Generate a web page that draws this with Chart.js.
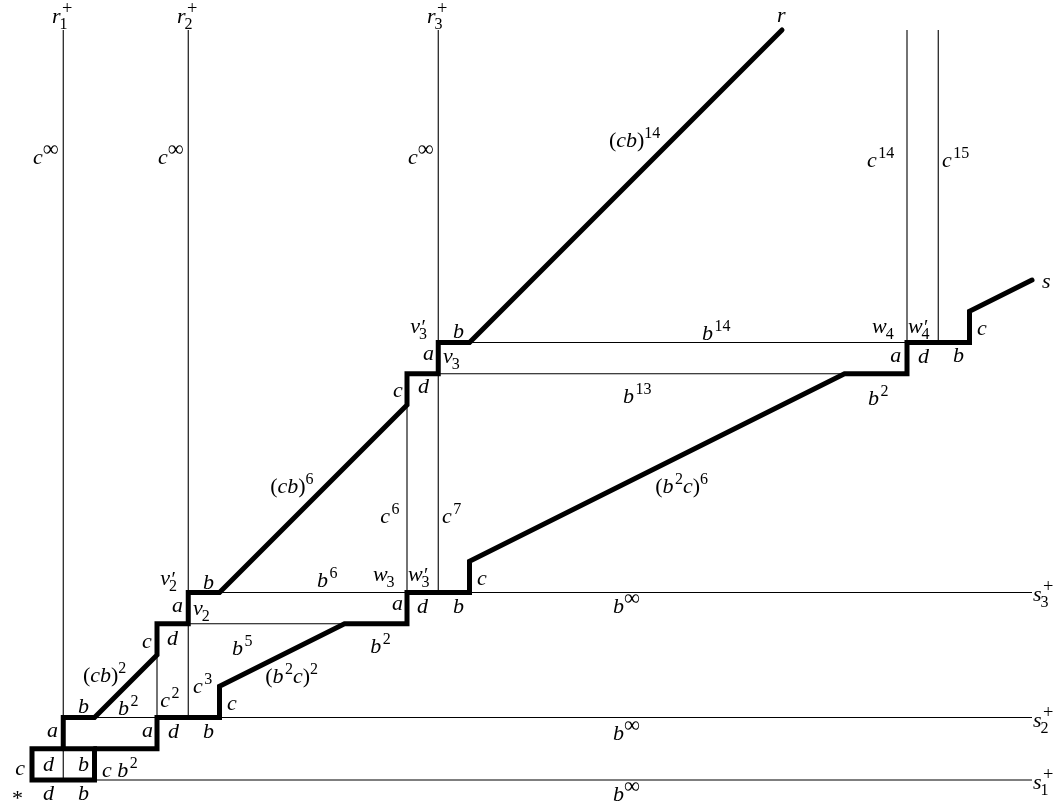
<!DOCTYPE html>
<html><head><meta charset="utf-8">
<script src="https://cdn.jsdelivr.net/npm/chart.js@4/dist/chart.umd.min.js"></script>
<style>html,body{margin:0;padding:0;background:#fff;overflow:hidden}#c{display:block}</style>
</head><body>
<canvas id="c" width="1060" height="812"></canvas>
<script>
// ---- diagram data in grid units (one cell = one generator step) ----
const boxPath   = [[0,1],[2,1],[2,0],[0,0],[0,1]];
const upperPath = [[1,1],[1,2],[2,2],[4,4],[4,5],[5,5],[5,6],[6,6],[12,12],[12,13],[13,13],[13,14],[14,14],[24,24]];
const lowerPath = [[2,1],[4,1],[4,2],[6,2],[6,3],[10,5],[12,5],[12,6],[14,6],[14,7],[26,13],[28,13],[28,14],[30,14],[30,15],[32,16]];
// thin verticals: [x, yFrom, yTo]
const verticalLines = [[1,0,24],[5,2,24],[13,6,24],[28,14,24],[29,14,24],[4,2,4],[12,6,12]];
// thin horizontals: [y, xFrom, xTo]
const horizontalLines = [[0,0,32],[2,1,32],[6,5,32],[5,5,10],[13,13,26],[14,13,28]];
// annotations: [text, x, y] (left edge, baseline)
const labels = [
  ["r_{1}^{+}",0.64,24.22],["r_{2}^{+}",4.64,24.22],["r_{3}^{+}",12.64,24.22],["r",23.84,24.26],
  ["c^{∞}",0.03,19.71],["c^{∞}",4.03,19.71],["c^{∞}",12.03,19.71],
  ["(cb)^{14}",18.46,20.26],["c^{14}",26.72,19.62],["c^{15}",29.12,19.62],["s",32.32,15.74],
  ["v_{3}^{′}",12.10,14.30],["b",13.47,14.14],["b^{14}",21.44,14.08],["w_{4}",26.88,14.30],["w_{4}^{′}",28.03,14.30],
  ["a",12.51,13.44],["v_{3}",13.15,13.34],["a",27.46,13.38],["d",28.35,13.34],["b",29.47,13.38],["c",30.24,14.24],
  ["c",11.55,12.26],["d",12.35,12.38],["b^{13}",18.91,12.06],["b^{2}",26.75,12.00],
  ["(cb)^{6}",7.62,9.18],["c^{6}",11.14,8.22],["c^{7}",13.12,8.22],["(b^{2}c)^{6}",19.94,9.18],
  ["v_{2}^{′}",4.10,6.24],["b",5.47,6.11],["b^{6}",9.12,6.18],["w_{3}",10.91,6.37],["w_{3}^{′}",12.03,6.37],["c",14.24,6.24],
  ["s_{3}^{+}",32.03,5.73],["s_{2}^{+}",32.03,1.70],["s_{1}^{+}",32.03,-0.29],
  ["a",4.48,5.38],["v_{2}",5.15,5.28],["b^{5}",6.40,4.00],["a",11.52,5.44],["d",12.32,5.34],["b",13.47,5.34],["b^{∞}",18.59,5.34],
  ["c",3.52,4.22],["d",4.32,4.32],["b^{2}",10.82,4.06],
  ["(cb)^{2}",1.63,3.14],["(b^{2}c)^{2}",7.46,3.10],["c^{3}",5.15,2.78],["c^{2}",4.10,2.34],
  ["b",1.47,2.14],["b^{2}",2.75,2.08],["c",6.24,2.24],
  ["a",0.48,1.38],["a",3.52,1.38],["d",4.35,1.34],["b",5.47,1.34],["b^{∞}",18.59,1.28],
  ["c",-0.54,0.16],["d",0.35,0.29],["b",1.47,0.29],["c b^{2}",2.24,0.10],
  ["*",-0.64,-0.80],["d",0.35,-0.64],["b",1.47,-0.64],["b^{∞}",18.59,-0.67]
];

// ---- build datasets ----
const toPts = arr => arr.map(([x,y]) => ({x, y}));
const datasets = [];
verticalLines.forEach(([x,a,b]) => datasets.push({data: toPts([[x,a],[x,b]]), thin:true}));
horizontalLines.forEach(([y,a,b]) => datasets.push({data: toPts([[a,y],[b,y]]), thin:true}));
[boxPath, upperPath, lowerPath].forEach((p,i) => datasets.push({data: toPts(p), thin:false, cap: i===0 ? 'square' : 'round'}));
datasets.forEach(d => {
  Object.assign(d, {
    showLine: true, pointRadius: 0, pointHoverRadius: 0, fill: false,
    borderColor: '#000', backgroundColor: '#000',
    borderWidth: d.thin ? 1.1 : 5,
    borderJoinStyle: 'miter', borderCapStyle: d.cap || 'butt',
    order: d.thin ? 2 : 1, clip: false, tension: 0
  });
});

const MAIN = 22, SCRIPT = 16, SUP_RAISE = 9, SUB_DROP = 6, FAMILY = '"Liberation Serif", "Times New Roman", serif';
function drawRun(ctx, s, x, y, size) {
  let w = 0;
  for (const c of s) {
    let sz = size, dy = 0;
    if (c === '∞') { sz = size * 1.4; dy = 1; }
    if (c === '+') { sz = size * 1.15; }
    ctx.font = (/[a-z]/.test(c) ? 'italic ' : '') + sz + 'px ' + FAMILY;
    ctx.fillText(c, x + w, y + dy);
    w += ctx.measureText(c).width;
  }
  return w;
}
function drawRich(ctx, str, x, y) {
  let i = 0, prevItalic = false;
  while (i < str.length) {
    const ch = str[i];
    if (ch === '^' || ch === '_') {
      let sup = null, sub = null;
      while (i < str.length && (str[i] === '^' || str[i] === '_')) {
        const kind = str[i]; i++;
        let g = '';
        if (str[i] === '{') { i++; while (str[i] !== '}') { g += str[i]; i++; } i++; }
        else { g = str[i]; i++; }
        if (kind === '^') sup = g; else sub = g;
      }
      let w = 0;
      if (sup !== null) {
        const off = prevItalic ? (sup === '∞' ? 0 : 1.5) : 0;
        if (sup === '′') w = Math.max(w, drawRun(ctx, sup, x + off, y + 1, 20) + off);
        else w = Math.max(w, drawRun(ctx, sup, x + off, y - SUP_RAISE, SCRIPT) + off);
      }
      if (sub !== null) w = Math.max(w, drawRun(ctx, sub, x - (prevItalic ? 1 : 0), y + SUB_DROP, SCRIPT));
      x += w;
    } else {
      x += drawRun(ctx, ch, x, y, MAIN);
      prevItalic = /[a-z]/.test(ch);
      i++;
    }
  }
}
const labelPlugin = {
  id: 'labels',
  afterDraw(chart) {
    const ctx = chart.ctx, sx = chart.scales.x, sy = chart.scales.y;
    ctx.save();
    ctx.fillStyle = '#000';
    ctx.textBaseline = 'alphabetic';
    ctx.textAlign = 'left';
    labels.forEach(([t, gx, gy]) => drawRich(ctx, t, sx.getPixelForValue(gx), sy.getPixelForValue(gy)));
    ctx.restore();
  }
};

new Chart(document.getElementById('c').getContext('2d'), {
  type: 'scatter',
  data: { datasets },
  options: {
    responsive: false, animation: false, devicePixelRatio: 1,
    layout: { padding: 0 },
    events: [],
    plugins: { legend: { display: false }, tooltip: { enabled: false } },
    scales: {
      x: { type: 'linear', min: -1.024, max: 32.896, display: false },
      y: { type: 'linear', min: -1.024, max: 24.96, display: false }
    }
  },
  plugins: [labelPlugin]
});
</script>
</body></html>
